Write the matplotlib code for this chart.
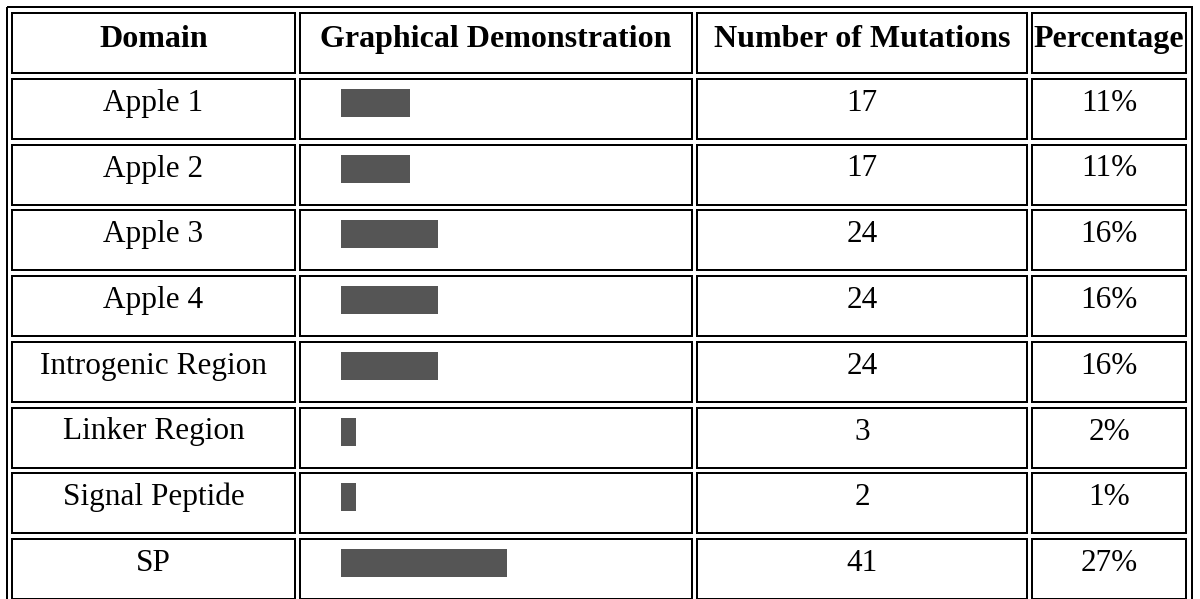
import numpy as np
import matplotlib.pyplot as plt
from matplotlib.patches import Rectangle

domains = ['Apple 1', 'Apple 2', 'Apple 3', 'Apple 4', 'Introgenic Region',
           'Linker Region', 'Signal Peptide', 'SP']
mutations = [17, 17, 24, 24, 24, 3, 2, 41]
percent_labels = ['11%', '11%', '16%', '16%', '16%', '2%', '1%', '27%']
headers = ['Domain', 'Graphical Demonstration', 'Number of Mutations', 'Percentage']

# layout in pixels (html-like table with double borders)
W, H = 1200, 599
cols = [(11, 296), (299, 693), (696, 1028), (1031, 1187)]
row_top0 = 12
row_pitch = 65.75
row_h = 62
lw = 1.44  # 2 px at dpi 100
px_per_mut = 4.05
min_bar = 15
bar_left = 341

fig = plt.figure(figsize=(12, 5.99), dpi=100)
ax = fig.add_axes([0, 0, 1, 1])
ax.set_xlim(0, W)
ax.set_ylim(H, 0)
ax.axis('off')

serif = ['Liberation Serif', 'DejaVu Serif']

# outer table border
ax.add_patch(Rectangle((7, 7), 1185, 620, fill=False, ec='black', lw=lw))

n_rows = len(domains) + 1
tops = [row_top0 + i * row_pitch for i in range(n_rows)]
for t in tops:
    for x0, x1 in cols:
        ax.add_patch(Rectangle((x0 + 1, t + 1), x1 - x0 - 2, row_h - 2,
                               fill=False, ec='black', lw=lw))

# header
for (x0, x1), h in zip(cols, headers):
    ax.text((x0 + x1) / 2, tops[0] + 35, h, ha='center', va='baseline',
            fontsize=23, fontweight='bold', family=serif)

# body rows
bar_w = np.maximum(np.array(mutations) * px_per_mut, min_bar)
body_tops = np.array(tops[1:])
ax.barh(body_tops + 11 + 14, bar_w, height=28, left=bar_left,
        color='#555555', edgecolor='none')

for t, d, m, p in zip(body_tops, domains, mutations, percent_labels):
    base = t + 33
    ax.text(sum(cols[0]) / 2, base, d, ha='center', va='baseline',
            fontsize=22.5, family=serif)
    ax.text(sum(cols[2]) / 2, base, str(m), ha='center', va='baseline',
            fontsize=22.5, family=serif)
    ax.text(sum(cols[3]) / 2, base, p, ha='center', va='baseline',
            fontsize=22.5, family=serif)

fig.savefig('out.png', dpi=100)
